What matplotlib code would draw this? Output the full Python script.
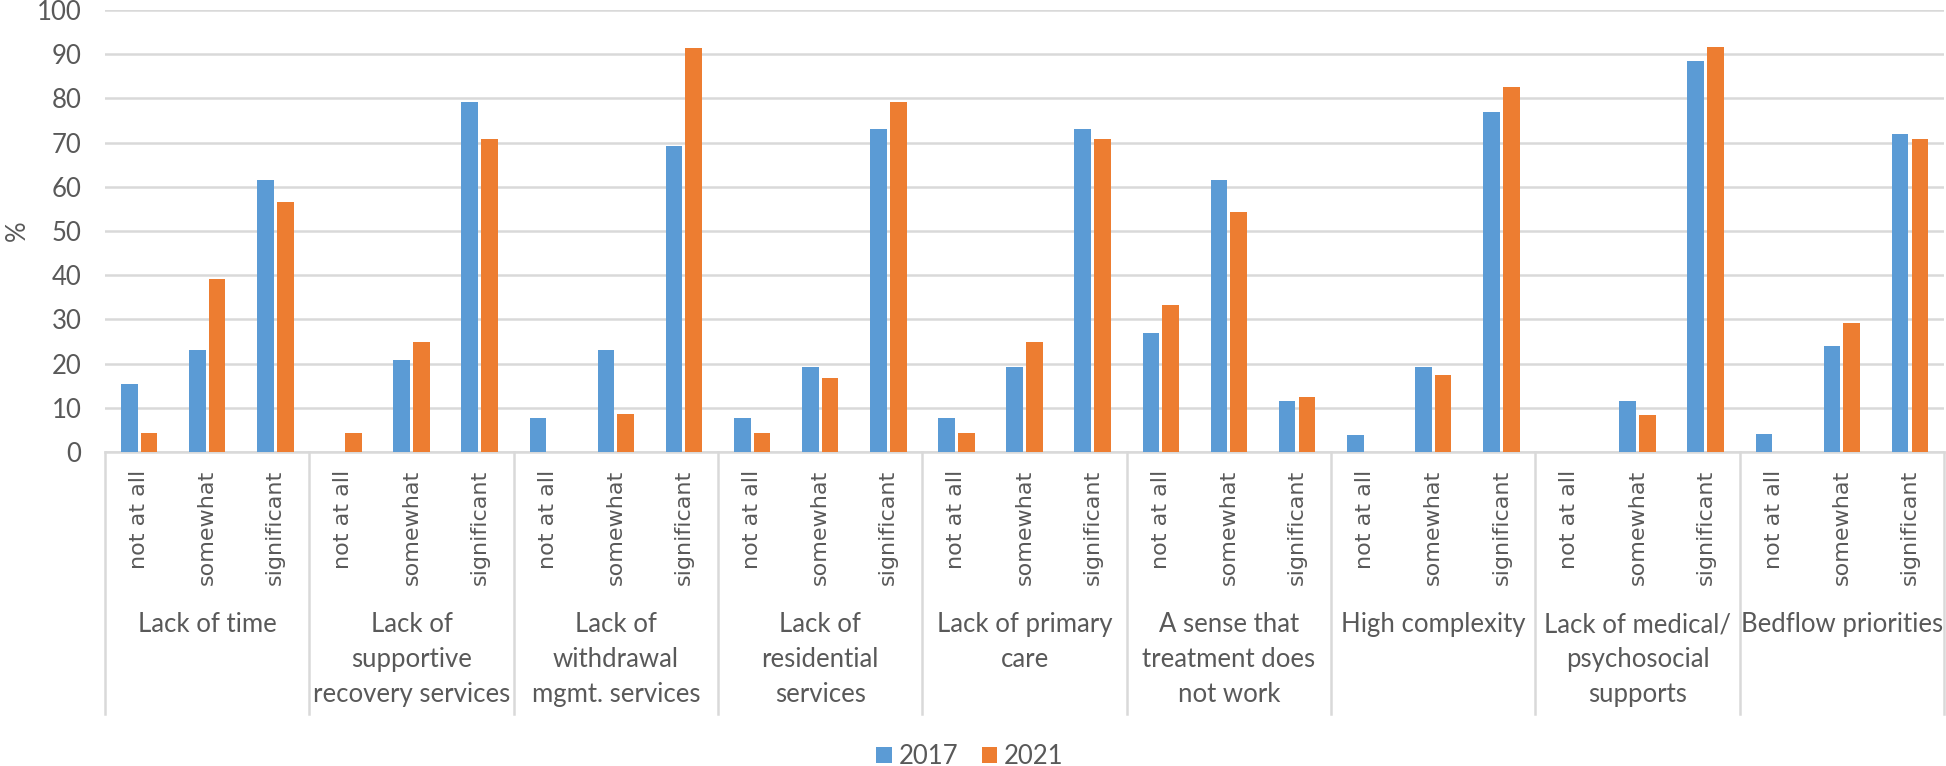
import matplotlib.pyplot as plt
import numpy as np

# barriers and response levels
groups = ["Lack of time", "Lack of\nsupportive\nrecovery services",
          "Lack of\nwithdrawal\nmgmt. services", "Lack of\nresidential\nservices",
          "Lack of primary\ncare", "A sense that\ntreatment does\nnot work",
          "High complexity", "Lack of medical/\npsychosocial\nsupports",
          "Bedflow priorities"]
levels = ["not at all", "somewhat", "significant"]

# % per group, in order not at all / somewhat / significant
vals_2017 = [15.4, 23.1, 61.5,
             0.0, 20.8, 79.2,
             7.7, 23.1, 69.2,
             7.7, 19.2, 73.1,
             7.7, 19.2, 73.1,
             26.9, 61.5, 11.5,
             3.8, 19.2, 76.9,
             0.0, 11.5, 88.5,
             4.0, 24.0, 72.0]
vals_2021 = [4.2, 39.1, 56.5,
             4.2, 25.0, 70.8,
             0.0, 8.7, 91.3,
             4.2, 16.7, 79.2,
             4.2, 25.0, 70.8,
             33.3, 54.2, 12.5,
             0.0, 17.4, 82.6,
             0.0, 8.3, 91.7,
             0.0, 29.2, 70.8]

blue = "#5B9BD5"
orange = "#ED7D31"
grid_c = "#D9D9D9"
txt_c = "#595959"
fs = 18.5

fig = plt.figure(figsize=(19.46, 7.66), dpi=100)
ax = fig.add_axes([105 / 1946, (766 - 452) / 766, 1 - 105 / 1946 - 0.001, (452 - 10) / 766])

x = np.arange(len(vals_2017))
w = 0.245
off = 0.145
ax.bar(x - off, vals_2017, width=w, color=blue, label="2017", zorder=3)
ax.bar(x + off, vals_2021, width=w, color=orange, label="2021", zorder=3)

ax.set_xlim(-0.5, len(x) - 0.5)
ax.set_ylim(0, 100)
ax.set_yticks(range(0, 101, 10))
ax.yaxis.grid(True, color=grid_c, linewidth=1.8, zorder=0)
ax.tick_params(axis="y", length=0, pad=17, labelsize=fs, labelcolor=txt_c)
for lab in ax.get_yticklabels():
    lab.set_family("Lato")

ax.set_xticks(x)
ax.set_xticklabels(levels * len(groups), rotation=90, fontsize=16,
                   color=txt_c, family="DejaVu Sans")
ax.tick_params(axis="x", length=0, pad=13)

for s in ["top", "right", "left"]:
    ax.spines[s].set_visible(False)
ax.spines["bottom"].set_color(grid_c)
ax.spines["bottom"].set_linewidth(1.8)

ax.set_ylabel("%", fontsize=fs, color=txt_c, family="Lato", labelpad=5)

# group separators and group names below the axis
trans = ax.get_xaxis_transform()
bottom = (714 - 452) / (452 - 10)
for i in range(len(groups) + 1):
    ax.plot([i * 3 - 0.5] * 2, [0, -bottom], transform=trans, color=grid_c,
            linewidth=1.8, clip_on=False)
for i, g in enumerate(groups):
    ax.text(i * 3 + 1, -(612 - 452) / (452 - 10), g, transform=trans, ha="center",
            va="top", fontsize=fs, color=txt_c, family="Lato", linespacing=1.5)

fig.legend(loc="center", bbox_to_anchor=(970 / 1946, 0.012), ncol=2, frameon=False,
           handlelength=0.62, handleheight=0.6, handletextpad=0.25, columnspacing=0.9,
           borderpad=0, prop={"family": "Lato", "size": fs}, labelcolor=txt_c)

plt.savefig("out.png")
